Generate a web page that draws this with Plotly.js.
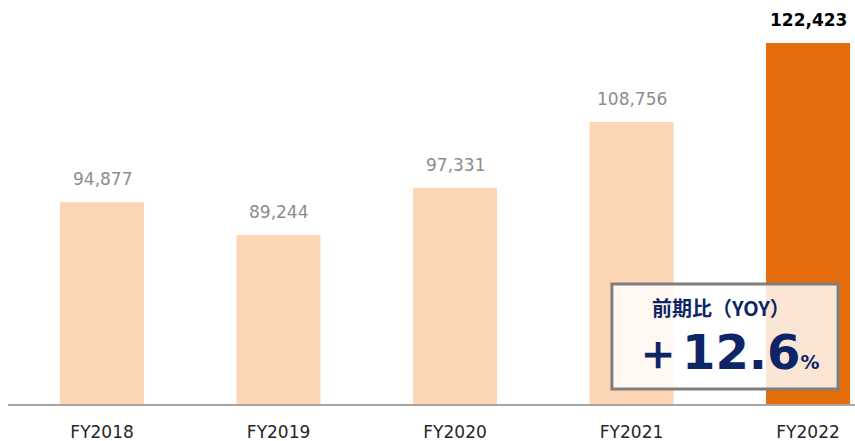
<!DOCTYPE html>
<html><head><meta charset="utf-8">
<script src="https://cdn.plot.ly/plotly-3.0.1.min.js"></script>
<style>html,body{margin:0;padding:0;background:#fff}#c{width:855px;height:441px}</style>
</head><body><div id="c"></div>
<script>
const categories = ["FY2018", "FY2019", "FY2020", "FY2021", "FY2022"];
const values = [94877, 89244, 97331, 108756, 122423];
const valueLabels = ["94,877", "89,244", "97,331", "108,756", "122,423"];
const yoyTitle = "前期比（YOY）";
const yoyValue = "＋12.6";

const barColors = values.map((v, i) => i === values.length - 1 ? "#e46c0a" : "#fcd5b5");
const idx = categories.map((c, i) => i);

const trace = {
  type: "bar",
  x: idx,
  y: values,
  width: 0.476,
  marker: { color: barColors },
  hoverinfo: "skip"
};

const annotations = idx.map((i) => ({
  x: i, y: values[i], xref: "x", yref: "y",
  text: valueLabels[i],
  showarrow: false, xanchor: "center", yanchor: "bottom", yshift: 11,
  font: i === values.length - 1
    ? { family: "DejaVu Sans, Verdana, sans-serif", size: 17, color: "#000000", weight: "bold" }
    : { family: "DejaVu Sans, Verdana, sans-serif", size: 17, color: "#8c8c8c" }
}));
annotations.push({
  x: 0.842, y: 0.240, xref: "paper", yref: "paper", xanchor: "center", yanchor: "middle",
  text: "<b>" + yoyTitle + "</b>", showarrow: false,
  font: { family: "Noto Sans CJK JP, DejaVu Sans, sans-serif", size: 20, color: "#0d2466" }
});
annotations.push({
  x: 0.848, y: 0.129, xref: "paper", yref: "paper", xanchor: "center", yanchor: "middle",
  text: "<b>" + yoyValue + "<span style='font-size:19px'>%</span></b>", showarrow: false,
  font: { family: "DejaVu Sans, Verdana, sans-serif", size: 48, color: "#0d2466" }
});

const layout = {
  width: 855, height: 441,
  margin: { l: 8, r: 0, t: 0, b: 37 },
  paper_bgcolor: "#ffffff", plot_bgcolor: "#ffffff",
  showlegend: false,
  xaxis: {
    range: [-0.533, 4.266],
    tickmode: "array", tickvals: idx, ticktext: categories,
    showgrid: false, zeroline: false,
    showline: true, linecolor: "#a6a6a6", linewidth: 1.5,
    ticks: "", ticklen: 0, ticklabelstandoff: 12,
    tickfont: { family: "DejaVu Sans, Verdana, sans-serif", size: 17, color: "#262626" }
  },
  yaxis: {
    range: [60000, 129860],
    visible: false, showgrid: false, zeroline: false
  },
  shapes: [{
    type: "rect", xref: "paper", yref: "paper",
    x0: 0.713, x1: 0.980, y0: 0.037, y1: 0.297,
    fillcolor: "rgba(255,255,255,0.83)",
    line: { color: "#7f7f7f", width: 3 },
    layer: "above"
  }],
  annotations: annotations
};

Plotly.newPlot("c", [trace], layout, { displayModeBar: false, staticPlot: true });
</script></body></html>
